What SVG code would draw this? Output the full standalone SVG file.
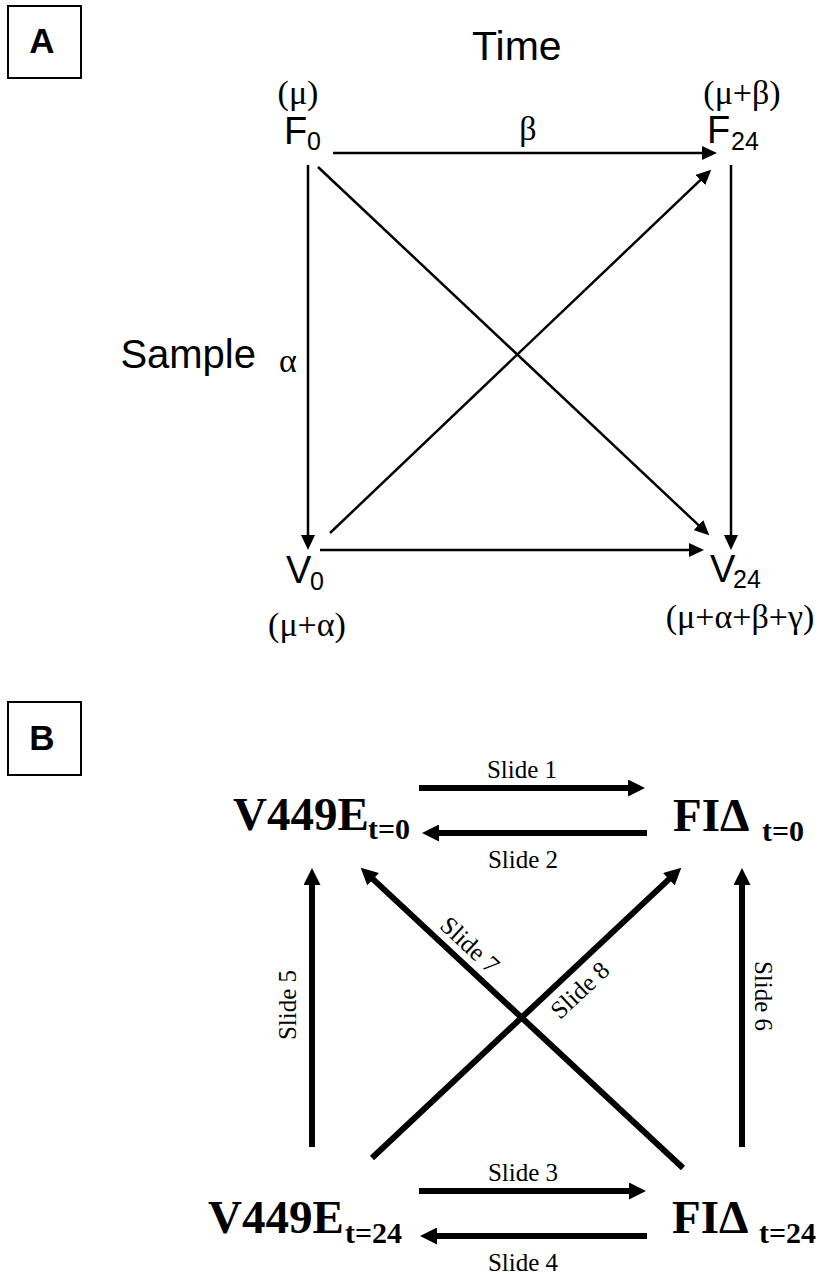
<svg xmlns="http://www.w3.org/2000/svg" width="820" height="1275" viewBox="0 0 820 1275">
<style>
.box{fill:none;stroke:#000;stroke-width:2}
.lbl{font-family:"Liberation Sans",Arial,sans-serif;font-weight:bold;font-size:35px;text-anchor:middle}
.sans{font-family:"Liberation Sans",Arial,sans-serif}
.big{font-size:41px}
.node{font-size:38px}
.sub{font-size:25px}
.ser{font-family:"Liberation Serif","Times New Roman",serif;font-size:34px}
.mid{text-anchor:middle}
.bnode{font-family:"Liberation Serif","Times New Roman",serif;font-weight:bold;font-size:47px}
.bsub{font-family:"Liberation Serif","Times New Roman",serif;font-weight:bold;font-size:30px}
.slide{font-family:"Liberation Serif","Times New Roman",serif;font-size:25px;text-anchor:middle}
.thin{stroke:#000;stroke-width:2.5;fill:none;marker-end:url(#ha)}
.thick{stroke:#000;stroke-width:6;fill:none;marker-end:url(#hb)}
</style>
<defs>
<marker id="ha" markerUnits="userSpaceOnUse" markerWidth="16" markerHeight="14" refX="1" refY="7" orient="auto"><path d="M0,0 L15,7 L0,14 z" fill="#000"/></marker>
<marker id="hb" markerUnits="userSpaceOnUse" markerWidth="18" markerHeight="17" refX="1" refY="8.5" orient="auto"><path d="M0,0 L17,8.5 L0,17 z" fill="#000"/></marker>
</defs>
<rect width="820" height="1275" fill="#fff"/>

<g id="panelA-label"><rect class="box" x="8" y="6" width="73" height="72"/><text class="lbl" x="42" y="53">A</text></g>
<g id="axis-time"><text class="sans big" x="472" y="60">Time</text></g>
<g id="axis-sample"><text class="sans" font-size="40" x="256" y="368" text-anchor="end">Sample</text></g>

<g id="connectors-A">
<line class="thin" x1="333" y1="153" x2="703" y2="153"/>
<line class="thin" x1="308" y1="165" x2="308" y2="536"/>
<line class="thin" x1="731" y1="165" x2="731" y2="536"/>
<line class="thin" x1="320" y1="550" x2="690" y2="550"/>
<line class="thin" x1="318" y1="167" x2="699.1" y2="525.7"/>
<line class="thin" x1="330" y1="533" x2="701.1" y2="179.4"/>
<text class="ser mid" x="528" y="140">β</text>
<text class="ser mid" x="288" y="372">α</text>
</g>

<g id="node-F0"><text class="ser mid" x="298" y="104">(μ)</text><text class="sans node" x="284" y="144">F</text><text class="sans sub" x="307" y="150">0</text></g>
<g id="node-F24"><text class="ser mid" x="742" y="104">(μ+β)</text><text class="sans node" x="707" y="143">F</text><text class="sans sub" x="731" y="150">24</text></g>
<g id="node-V0"><text class="sans node" x="286" y="583">V</text><text class="sans sub" x="310" y="590">0</text><text class="ser mid" x="307" y="636">(μ+α)</text></g>
<g id="node-V24"><text class="sans node" x="710" y="582">V</text><text class="sans sub" x="733" y="588">24</text><text class="ser mid" x="740" y="628">(μ+α+β+γ)</text></g>

<g id="panelB-label"><rect class="box" x="8" y="702" width="73" height="73"/><text class="lbl" x="42" y="750">B</text></g>

<g id="connectors-B">
<line class="thick" x1="419" y1="788" x2="629" y2="788"/>
<line class="thick" x1="647" y1="833" x2="438" y2="833"/>
<line class="thick" x1="419" y1="1191" x2="630" y2="1191"/>
<line class="thick" x1="647" y1="1236" x2="436" y2="1236"/>
<line class="thick" x1="312" y1="1147" x2="312" y2="884"/>
<line class="thick" x1="742" y1="1147" x2="742" y2="884"/>
<line class="thick" x1="683" y1="1168" x2="372.4" y2="878.6"/>
<line class="thick" x1="372" y1="1158" x2="669.6" y2="878.6"/>
<text class="slide" x="522" y="778">Slide 1</text>
<text class="slide" x="523" y="868">Slide 2</text>
<text class="slide" x="523" y="1181">Slide 3</text>
<text class="slide" x="523" y="1271">Slide 4</text>
<text class="slide" transform="translate(296,1005) rotate(-90)">Slide 5</text>
<text class="slide" transform="translate(755,996) rotate(90)">Slide 6</text>
<text class="slide" transform="translate(457.7,958.1) rotate(42.9)" y="-9.5">Slide 7</text>
<text class="slide" transform="translate(566.1,975.4) rotate(-43.1)" y="28.5">Slide 8</text>
</g>

<g id="node-V449E-t0"><text class="bnode" x="233" y="830">V449E</text><text class="bsub" x="368" y="839">t=0</text></g>
<g id="node-FID-t0"><text class="bnode" x="673" y="831">FIΔ</text><text class="bsub" x="762" y="841">t=0</text></g>
<g id="node-V449E-t24"><text class="bnode" x="208" y="1233">V449E</text><text class="bsub" x="345" y="1243">t=24</text></g>
<g id="node-FID-t24"><text class="bnode" x="672" y="1233">FIΔ</text><text class="bsub" x="759" y="1243">t=24</text></g>
</svg>
